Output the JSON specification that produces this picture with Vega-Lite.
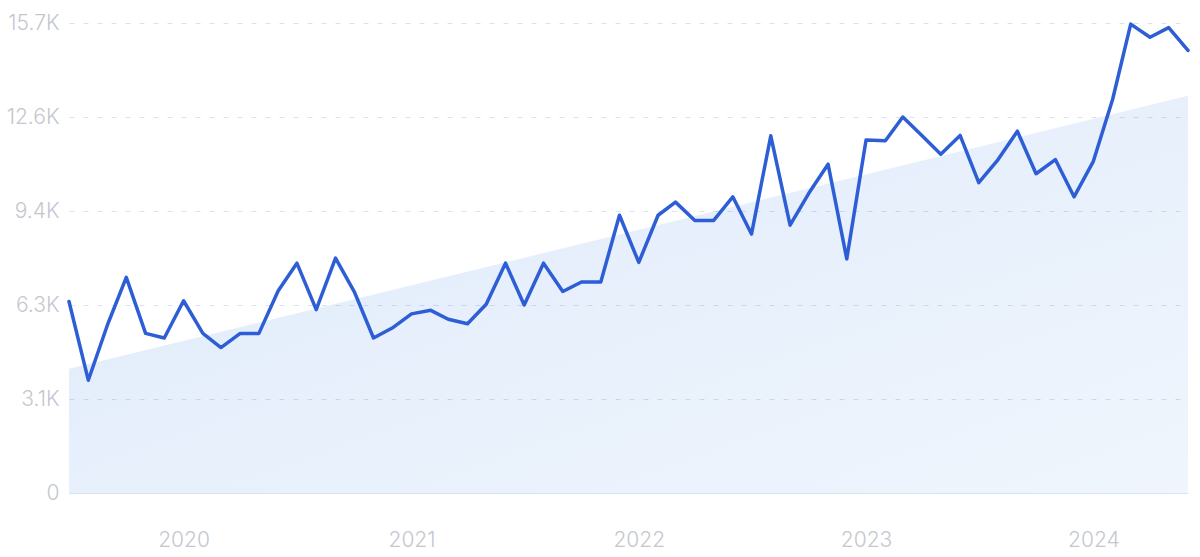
{
  "$schema": "https://vega.github.io/schema/vega-lite/v6.json",
  "width": 1119,
  "height": 470,
  "autosize": "none",
  "padding": {"left": 69, "top": 23, "right": 12, "bottom": 64},
  "background": "white",
  "config": {"view": {"stroke": null}, "font": "Inter"},
  "datasets": {
    "series": [
      {"date": "2019/07/01", "value": 6398},
      {"date": "2019/08/01", "value": 3768},
      {"date": "2019/09/01", "value": 5628},
      {"date": "2019/10/01", "value": 7204},
      {"date": "2019/11/01", "value": 5332},
      {"date": "2019/12/01", "value": 5178},
      {"date": "2020/01/01", "value": 6422},
      {"date": "2020/02/01", "value": 5332},
      {"date": "2020/03/01", "value": 4858},
      {"date": "2020/04/01", "value": 5332},
      {"date": "2020/05/01", "value": 5332},
      {"date": "2020/06/01", "value": 6754},
      {"date": "2020/07/01", "value": 7678},
      {"date": "2020/08/01", "value": 6126},
      {"date": "2020/09/01", "value": 7844},
      {"date": "2020/10/01", "value": 6730},
      {"date": "2020/11/01", "value": 5178},
      {"date": "2020/12/01", "value": 5510},
      {"date": "2021/01/01", "value": 5984},
      {"date": "2021/02/01", "value": 6102},
      {"date": "2021/03/01", "value": 5806},
      {"date": "2021/04/01", "value": 5652},
      {"date": "2021/05/01", "value": 6304},
      {"date": "2021/06/01", "value": 7678},
      {"date": "2021/07/01", "value": 6280},
      {"date": "2021/08/01", "value": 7678},
      {"date": "2021/09/01", "value": 6730},
      {"date": "2021/10/01", "value": 7050},
      {"date": "2021/11/01", "value": 7050},
      {"date": "2021/12/01", "value": 9278},
      {"date": "2022/01/01", "value": 7702},
      {"date": "2022/02/01", "value": 9278},
      {"date": "2022/03/01", "value": 9716},
      {"date": "2022/04/01", "value": 9100},
      {"date": "2022/05/01", "value": 9100},
      {"date": "2022/06/01", "value": 9894},
      {"date": "2022/07/01", "value": 8650},
      {"date": "2022/08/01", "value": 11932},
      {"date": "2022/09/01", "value": 8946},
      {"date": "2022/10/01", "value": 10012},
      {"date": "2022/11/01", "value": 10984},
      {"date": "2022/12/01", "value": 7820},
      {"date": "2023/01/01", "value": 11790},
      {"date": "2023/02/01", "value": 11766},
      {"date": "2023/03/01", "value": 12560},
      {"date": "2023/04/01", "value": 11932},
      {"date": "2023/05/01", "value": 11316},
      {"date": "2023/06/01", "value": 11944},
      {"date": "2023/07/01", "value": 10368},
      {"date": "2023/08/01", "value": 11138},
      {"date": "2023/09/01", "value": 12086},
      {"date": "2023/10/01", "value": 10664},
      {"date": "2023/11/01", "value": 11138},
      {"date": "2023/12/01", "value": 9894},
      {"date": "2024/01/01", "value": 11079},
      {"date": "2024/02/01", "value": 13152},
      {"date": "2024/03/01", "value": 15664},
      {"date": "2024/04/01", "value": 15226},
      {"date": "2024/05/01", "value": 15546},
      {"date": "2024/06/01", "value": 14788}
    ],
    "trend": [
      {"date": "2019/07/01", "value": 4147},
      {"date": "2024/06/01", "value": 13271}
    ]
  },
  "layer": [
    {
      "data": {"name": "trend"},
      "mark": {
        "type": "area",
        "fill": {
          "gradient": "linear",
          "x1": 0, "y1": 0, "x2": 1, "y2": 1,
          "stops": [
            {"offset": 0, "color": "rgba(90,150,230,0.2)"},
            {"offset": 1, "color": "rgba(90,150,230,0.09)"}
          ]
        }
      },
      "encoding": {
        "x": {
          "field": "date", "type": "temporal",
          "scale": {"domain": [{"year": 2019, "month": 7, "date": 1}, {"year": 2024, "month": 6, "date": 1}]},
          "axis": {
            "title": null,
            "format": "%Y",
            "tickCount": {"interval": "year", "step": 1},
            "grid": false,
            "ticks": false,
            "domain": true,
            "domainColor": "#d6e1f3",
            "domainWidth": 1,
            "labelFont": "Inter",
            "labelFontSize": 21,
            "labelFontWeight": 300,
            "labelColor": "#c4c7ce",
            "labelPadding": 36
          }
        },
        "y": {
          "field": "value", "type": "quantitative",
          "scale": {"domain": [0, 15700], "nice": false},
          "axis": {
            "title": null,
            "values": [0, 3140, 6280, 9420, 12560, 15700],
            "labelExpr": "datum.value == 0 ? '0' : format(datum.value / 1000, '.1f') + 'K'",
            "domain": false,
            "ticks": false,
            "grid": true,
            "gridColor": "#d8e1f1",
            "gridDash": [5, 9],
            "gridWidth": 1,
            "labelFont": "Inter",
            "labelFontSize": 21,
            "labelFontWeight": 300,
            "labelColor": "#c4c7ce",
            "labelPadding": 10
          }
        }
      }
    },
    {
      "data": {"name": "series"},
      "mark": {"type": "line", "color": "#2e5ed5", "strokeWidth": 3.5, "strokeJoin": "round", "strokeCap": "round"},
      "encoding": {
        "x": {"field": "date", "type": "temporal"},
        "y": {"field": "value", "type": "quantitative"}
      }
    }
  ]
}
